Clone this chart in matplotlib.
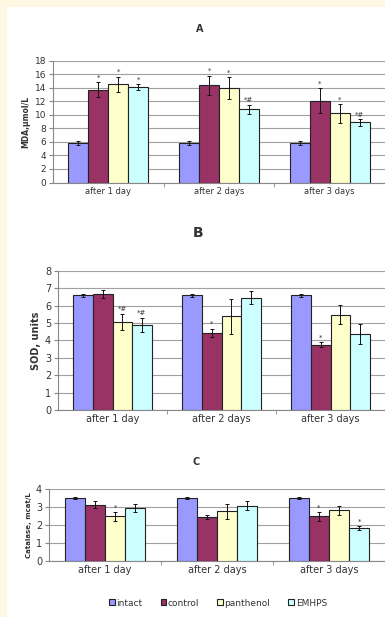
import numpy as np
import matplotlib.pyplot as plt
from matplotlib.patches import Rectangle

days = ["after 1 day", "after 2 days", "after 3 days"]
groups = ["intact", "control", "panthenol", "EMHPS"]
colors = ["#9999FF", "#993366", "#FFFFCC", "#CCFFFF"]

# MDA, umol/L  (rows = groups, cols = days)
mda = [[5.9, 5.9, 5.9],
       [13.7, 14.4, 12.1],
       [14.5, 14.0, 10.2],
       [14.1, 10.8, 8.9]]
mda_err = [[0.3, 0.3, 0.3],
           [1.1, 1.4, 1.8],
           [1.15, 1.6, 1.4],
           [0.5, 0.7, 0.5]]
mda_marks = [["", "", ""],
             ["*", "*", "*"],
             ["*", "*", "*"],
             ["*", "*#", "*#"]]

# SOD, units
sod = [[6.58, 6.58, 6.58],
       [6.65, 4.43, 3.75],
       [5.05, 5.37, 5.48],
       [4.9, 6.46, 4.36]]
sod_err = [[0.1, 0.1, 0.1],
           [0.22, 0.25, 0.15],
           [0.45, 1.0, 0.55],
           [0.4, 0.4, 0.57]]
sod_marks = [["", "", ""],
             ["", "*", "*"],
             ["*#", "", ""],
             ["*#", "", ""]]

# Catalase, mcat/L
cat = [[3.5, 3.5, 3.5],
       [3.13, 2.43, 2.48],
       [2.48, 2.76, 2.81],
       [2.94, 3.07, 1.83]]
cat_err = [[0.03, 0.03, 0.03],
           [0.2, 0.12, 0.25],
           [0.25, 0.4, 0.25],
           [0.2, 0.25, 0.12]]
cat_marks = [["", "", ""],
             ["", "", "*"],
             ["*", "", ""],
             ["", "", "*"]]

W, H = 385, 617
fig = plt.figure(figsize=(W / 100, H / 100), dpi=100, facecolor="#FEF8E2")
fig.patches.append(Rectangle((7 / W, 0), 1, 1 - 7 / H, transform=fig.transFigure,
                             facecolor="white", edgecolor="none", zorder=-10))

txt = "#333333"


def panel(rect, vals, errs, marks, ymax, ylabel, ylab_size, tick_size, cat_size, mark_off):
    ax = fig.add_axes(rect)
    ax.set_facecolor("none")
    x = np.arange(len(days))
    bw = 0.18
    for i, g in enumerate(groups):
        pos = x + (i - 1.5) * bw
        ax.bar(pos, vals[i], bw, color=colors[i], edgecolor="#222222", linewidth=0.8,
               label=g, zorder=3)
        ax.errorbar(pos, vals[i], yerr=errs[i], fmt="none", ecolor="#111111",
                    elinewidth=0.7, capsize=1.5, capthick=0.7, zorder=4)
        for j in range(len(days)):
            if marks[i][j]:
                ax.text(pos[j], vals[i][j] + errs[i][j] + mark_off, marks[i][j],
                        ha="center", va="bottom", fontsize=5, color=txt, zorder=5)
    ax.set_xlim(-0.5, 2.5)
    ax.set_ylim(0, ymax)
    ax.set_yticks(np.arange(0, ymax + 0.1, 2 if ymax > 10 else 1))
    ax.yaxis.grid(True, color="#a0a0a0", linewidth=0.8, zorder=0)
    ax.set_axisbelow(True)
    ax.set_xticks(x)
    ax.set_xticklabels(days, fontsize=cat_size, color=txt)
    ax.set_xticks([0.5, 1.5, 2.5], minor=True)
    ax.tick_params(axis="x", which="major", length=0, pad=3)
    ax.tick_params(axis="x", which="minor", length=3, color="#888888")
    ax.tick_params(axis="y", length=3, color="#888888", labelsize=tick_size,
                   labelcolor=txt, pad=2)
    for s in ["top", "right"]:
        ax.spines[s].set_visible(False)
    for s in ["left", "bottom"]:
        ax.spines[s].set_color("#888888")
        ax.spines[s].set_linewidth(0.8)
    ax.set_ylabel(ylabel, fontsize=ylab_size, fontweight="bold", color=txt, labelpad=3)
    return ax


axA = panel([53 / W, 1 - 182.5 / H, 332 / W, 121.8 / H], mda, mda_err, mda_marks,
            18, "MDA,µmol/L", 5.5, 6.5, 6, 0.2)
axB = panel([58 / W, 1 - 410 / H, 327 / W, 139.3 / H], sod, sod_err, sod_marks,
            8, "SOD, units", 7, 7, 7, 0.1)
axC = panel([49 / W, 1 - 561 / H, 336 / W, 72 / H], cat, cat_err, cat_marks,
            4, "Catalase, mcat/L", 5, 7, 7, 0.05)

fig.text(200 / W, 1 - 29 / H, "A", fontsize=7, fontweight="bold", color=txt, ha="center", va="center")
fig.text(198 / W, 1 - 233 / H, "B", fontsize=10, fontweight="bold", color=txt, ha="center", va="center")
fig.text(196 / W, 1 - 462 / H, "C", fontsize=7, fontweight="bold", color=txt, ha="center", va="center")

handles, labels = axA.get_legend_handles_labels()
fig.legend(handles, labels, loc="center", bbox_to_anchor=(218 / W, 1 - 603 / H), ncol=4,
           fontsize=6.5, frameon=False, handlelength=0.6, handleheight=0.6,
           handletextpad=0.2, columnspacing=2.0, labelcolor=txt)

fig.savefig("out.png", dpi=100, facecolor=fig.get_facecolor())
